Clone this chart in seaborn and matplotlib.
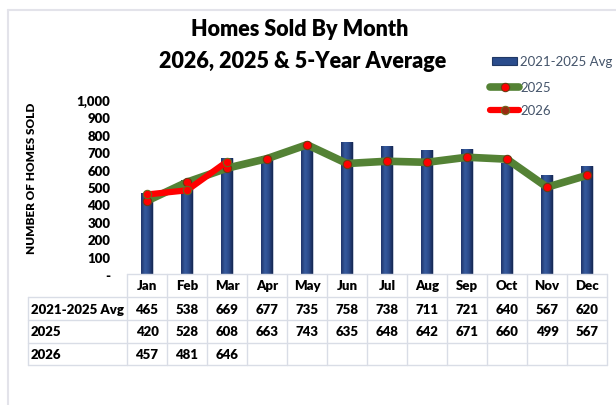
import numpy as np
import pandas as pd
import matplotlib
matplotlib.use('Agg')
import matplotlib.pyplot as plt
import matplotlib.transforms as mtransforms
import seaborn as sns
from matplotlib.lines import Line2D
from matplotlib.patches import Rectangle
from matplotlib.colors import LinearSegmentedColormap
from matplotlib.ticker import FuncFormatter

# ----------------------------------------------------------
# Data
# ----------------------------------------------------------
months = ['Jan', 'Feb', 'Mar', 'Apr', 'May', 'Jun', 'Jul', 'Aug', 'Sep', 'Oct', 'Nov', 'Dec']
avg_5yr = [465, 538, 669, 677, 735, 758, 738, 711, 721, 640, 567, 620]
sold_2025 = [420, 528, 608, 663, 743, 635, 648, 642, 671, 660, 499, 567]
sold_2026 = [457, 481, 646]
series_labels = ['2021-2025 Avg', '2025', '2026']
y_ticks = list(range(0, 1001, 100))

df = pd.DataFrame({'Month': months, 'pos': range(len(months)),
                   'Avg': avg_5yr, 'y2025': sold_2025})
df26 = pd.DataFrame({'pos': range(len(sold_2026)), 'y2026': sold_2026})

# ----------------------------------------------------------
# Style
# ----------------------------------------------------------
sns.set_theme(style='white')
plt.rcParams['font.family'] = ['Lato', 'DejaVu Sans']

W, H = 616, 406
def fx(px):
    return px / W
def fy(py):
    return 1 - py / H

bar_blue = '#2A4C8C'
green = '#548235'
red = '#FF0000'
legend_text = '#44546A'
grid_gray = '#D9DDE6'
heavy = 'heavy'

fig = plt.figure(figsize=(W / 100, H / 100), dpi=100)
ax = fig.add_axes([fx(127), fy(275), fx(607) - fx(127), fy(101) - fy(275)])

# bars
sns.barplot(data=df, x='Month', y='Avg', order=months, width=0.3, color=bar_blue,
            edgecolor='#C9D0DE', linewidth=0.6, ax=ax, zorder=2)

# Excel-ish shading on the bars
shade = LinearSegmentedColormap.from_list('shade', ['#1F3468', '#365A9E', '#2A4A8A', '#152650'])
for patch in list(ax.patches):
    x0, y0 = patch.get_x(), patch.get_y()
    w, h = patch.get_width(), patch.get_height()
    im = ax.imshow(np.linspace(0, 1, 64)[None, :], extent=[x0, x0 + w, y0, y0 + h],
                   cmap=shade, aspect='auto', zorder=2.1, interpolation='bicubic')
    im.set_clip_path(patch)

# lines
sns.lineplot(data=df, x='pos', y='y2025', color=green, linewidth=5.5, marker='o',
             markersize=6, markerfacecolor=red, markeredgecolor='#6E3B12',
             markeredgewidth=0.8, ax=ax, zorder=3)
sns.lineplot(data=df26, x='pos', y='y2026', color=red, linewidth=4.5, marker='o',
             markersize=6, markerfacecolor=red, markeredgecolor='#6B6B1E',
             markeredgewidth=0.8, ax=ax, zorder=4)

ax.set_xlim(-0.5, len(months) - 0.5)
ax.set_ylim(0, 1000)
ax.set_yticks(y_ticks)
ax.yaxis.set_major_formatter(FuncFormatter(lambda v, p: '-' if v == 0 else f'{int(v):,}'))
ax.tick_params(axis='y', length=0, labelsize=9.5, pad=12)
plt.setp(ax.get_yticklabels(), fontweight=heavy, color='black')
ax.set_xticks([])
ax.set_xlabel('')
ax.set_ylabel('')
for s in ax.spines.values():
    s.set_visible(False)
ax.grid(False)

# ----------------------------------------------------------
# Titles, axis label
# ----------------------------------------------------------
fig.text(fx(300), fy(30), 'Homes Sold By Month', ha='center', va='center',
         fontsize=15.5, fontweight=heavy, color='black')
fig.text(fx(303), fy(61), '2026, 2025 & 5-Year Average', ha='center', va='center',
         fontsize=15.5, fontweight=heavy, color='black')
fig.text(fx(32), fy(178), 'NUMBER OF HOMES SOLD', rotation=90, ha='center', va='center',
         fontsize=8.5, fontweight=heavy, color='black')

# ----------------------------------------------------------
# Legend (manual, Excel layout)
# ----------------------------------------------------------
fig.add_artist(Rectangle((fx(492), fy(66)), fx(517) - fx(492), 8 / H,
                         facecolor=bar_blue, edgecolor='#203864', lw=0.8))
fig.text(fx(520), fy(62), series_labels[0], va='center', fontsize=9.5, color=legend_text)
fig.add_artist(Line2D([fx(490), fx(519)], [fy(88), fy(88)], color=green, lw=5.5,
                      solid_capstyle='round'))
fig.add_artist(Line2D([fx(505)], [fy(88)], marker='o', ms=6, mfc=red, mec='#6E3B12', mew=0.8))
fig.text(fx(520), fy(88), series_labels[1], va='center', fontsize=9.5, color=legend_text)
fig.add_artist(Line2D([fx(490), fx(519)], [fy(111), fy(111)], color=red, lw=4.5,
                      solid_capstyle='round'))
fig.add_artist(Line2D([fx(505)], [fy(111)], marker='o', ms=6, mfc='#9C2A10', mec='#6B6B1E', mew=0.8))
fig.text(fx(520), fy(111), series_labels[2], va='center', fontsize=9.5, color=legend_text)

# ----------------------------------------------------------
# Data table under the chart
# ----------------------------------------------------------
blend = mtransforms.blended_transform_factory(ax.transData, fig.transFigure)
rows = [275, 298, 321, 344, 366]
table_left = 28
n = len(months)

# horizontal lines
fig.add_artist(Line2D([-0.5, n - 0.5], [fy(rows[0])] * 2, transform=blend, color=grid_gray, lw=1))
for r in rows[1:]:
    fig.add_artist(Line2D([fx(table_left), fx(607)], [fy(r)] * 2, color=grid_gray, lw=1))
# vertical lines
fig.add_artist(Line2D([fx(table_left)] * 2, [fy(rows[1]), fy(rows[-1])], color=grid_gray, lw=1))
for i in range(n + 1):
    fig.add_artist(Line2D([i - 0.5] * 2, [fy(rows[0]), fy(rows[-1])], transform=blend,
                          color=grid_gray, lw=1))

row_mid = [(a + b) / 2 for a, b in zip(rows[:-1], rows[1:])]
for i, m in enumerate(months):
    fig.text(i, fy(row_mid[0]), m, transform=blend, ha='center', va='center',
             fontsize=9.5, fontweight=heavy, color='black')

table_rows = [avg_5yr, sold_2025, sold_2026]
for k, (lab, vals) in enumerate(zip(series_labels, table_rows)):
    y = fy(row_mid[k + 1])
    fig.text(fx(table_left + 3), y, lab, ha='left', va='center',
             fontsize=9.5, fontweight=heavy, color='black')
    for i, v in enumerate(vals):
        fig.text(i, y, str(v), transform=blend, ha='center', va='center',
                 fontsize=9.5, fontweight=heavy, color='black')

# outer chart frame
fig.add_artist(Line2D([fx(8), fx(8)], [fy(11), 0], color='#E3E3EA', lw=1.5))
fig.add_artist(Line2D([fx(8), 1], [fy(11), fy(11)], color='#E3E3EA', lw=1.5))

fig.savefig('out.png', dpi=100)
